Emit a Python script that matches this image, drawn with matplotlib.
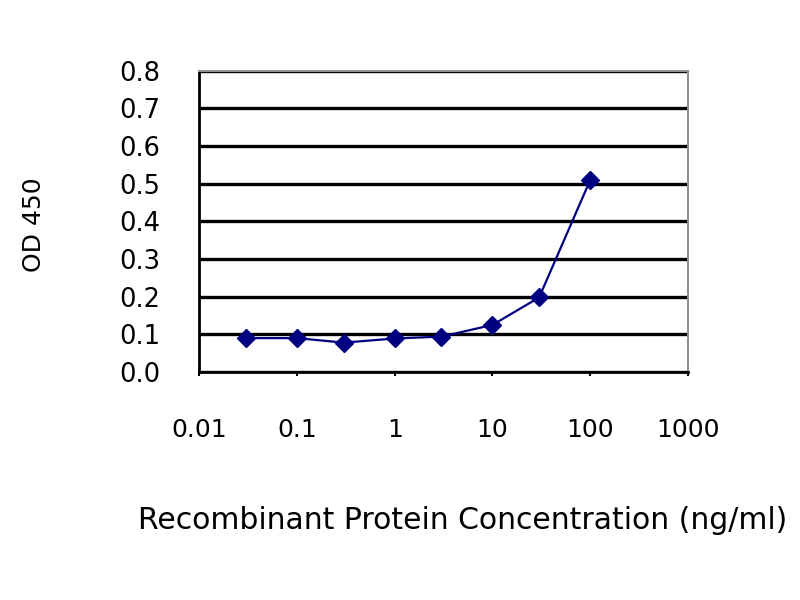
import matplotlib
matplotlib.use("Agg")
import matplotlib.pyplot as plt
import numpy as np

# ELISA standard curve values
conc = [0.03, 0.1, 0.3, 1, 3, 10, 30, 100]
od450 = [0.090, 0.090, 0.078, 0.089, 0.094, 0.125, 0.198, 0.510]
x_ticks = [0.01, 0.1, 1, 10, 100, 1000]
x_tick_labels = ["0.01", "0.1", "1", "10", "100", "1000"]
y_ticks = [0.0, 0.1, 0.2, 0.3, 0.4, 0.5, 0.6, 0.7, 0.8]

plt.rcParams['font.family'] = ['DejaVu Sans']

fig = plt.figure(figsize=(8, 6), dpi=100)
ax = fig.add_axes([0.249, 0.38, 0.611, 0.502])

ax.plot(conc, od450, color='#000080', linewidth=1.6, marker='D',
        markersize=9, markerfacecolor='#000080', markeredgecolor='#000080', zorder=3)

ax.set_xscale('log')
ax.set_xlim(0.01, 1000)
ax.set_ylim(0, 0.8)
ax.set_xticks(x_ticks)
ax.set_xticklabels(x_tick_labels)
ax.set_yticks(y_ticks)
ax.set_yticklabels([f"{v:.1f}" for v in y_ticks])
ax.minorticks_off()

ax.grid(axis='y', color='black', linewidth=2.4)
ax.set_axisbelow(True)

for side in ['left', 'bottom']:
    ax.spines[side].set_color('black')
    ax.spines[side].set_linewidth(2.0)
for side in ['top', 'right']:
    ax.spines[side].set_color('#909090')
    ax.spines[side].set_linewidth(1.5)

ax.tick_params(axis='x', length=3, width=1.5, pad=30, labelsize=18)
ax.tick_params(axis='y', length=0, pad=28, labelsize=18.5)

fig.text(0.042, 0.625, "OD 450", rotation=90, ha='center', va='center', fontsize=18)
fig.text(0.578, 0.133, "Recombinant Protein Concentration (ng/ml)",
         ha='center', va='center', fontsize=21.5)

fig.savefig("out.png", dpi=100)
